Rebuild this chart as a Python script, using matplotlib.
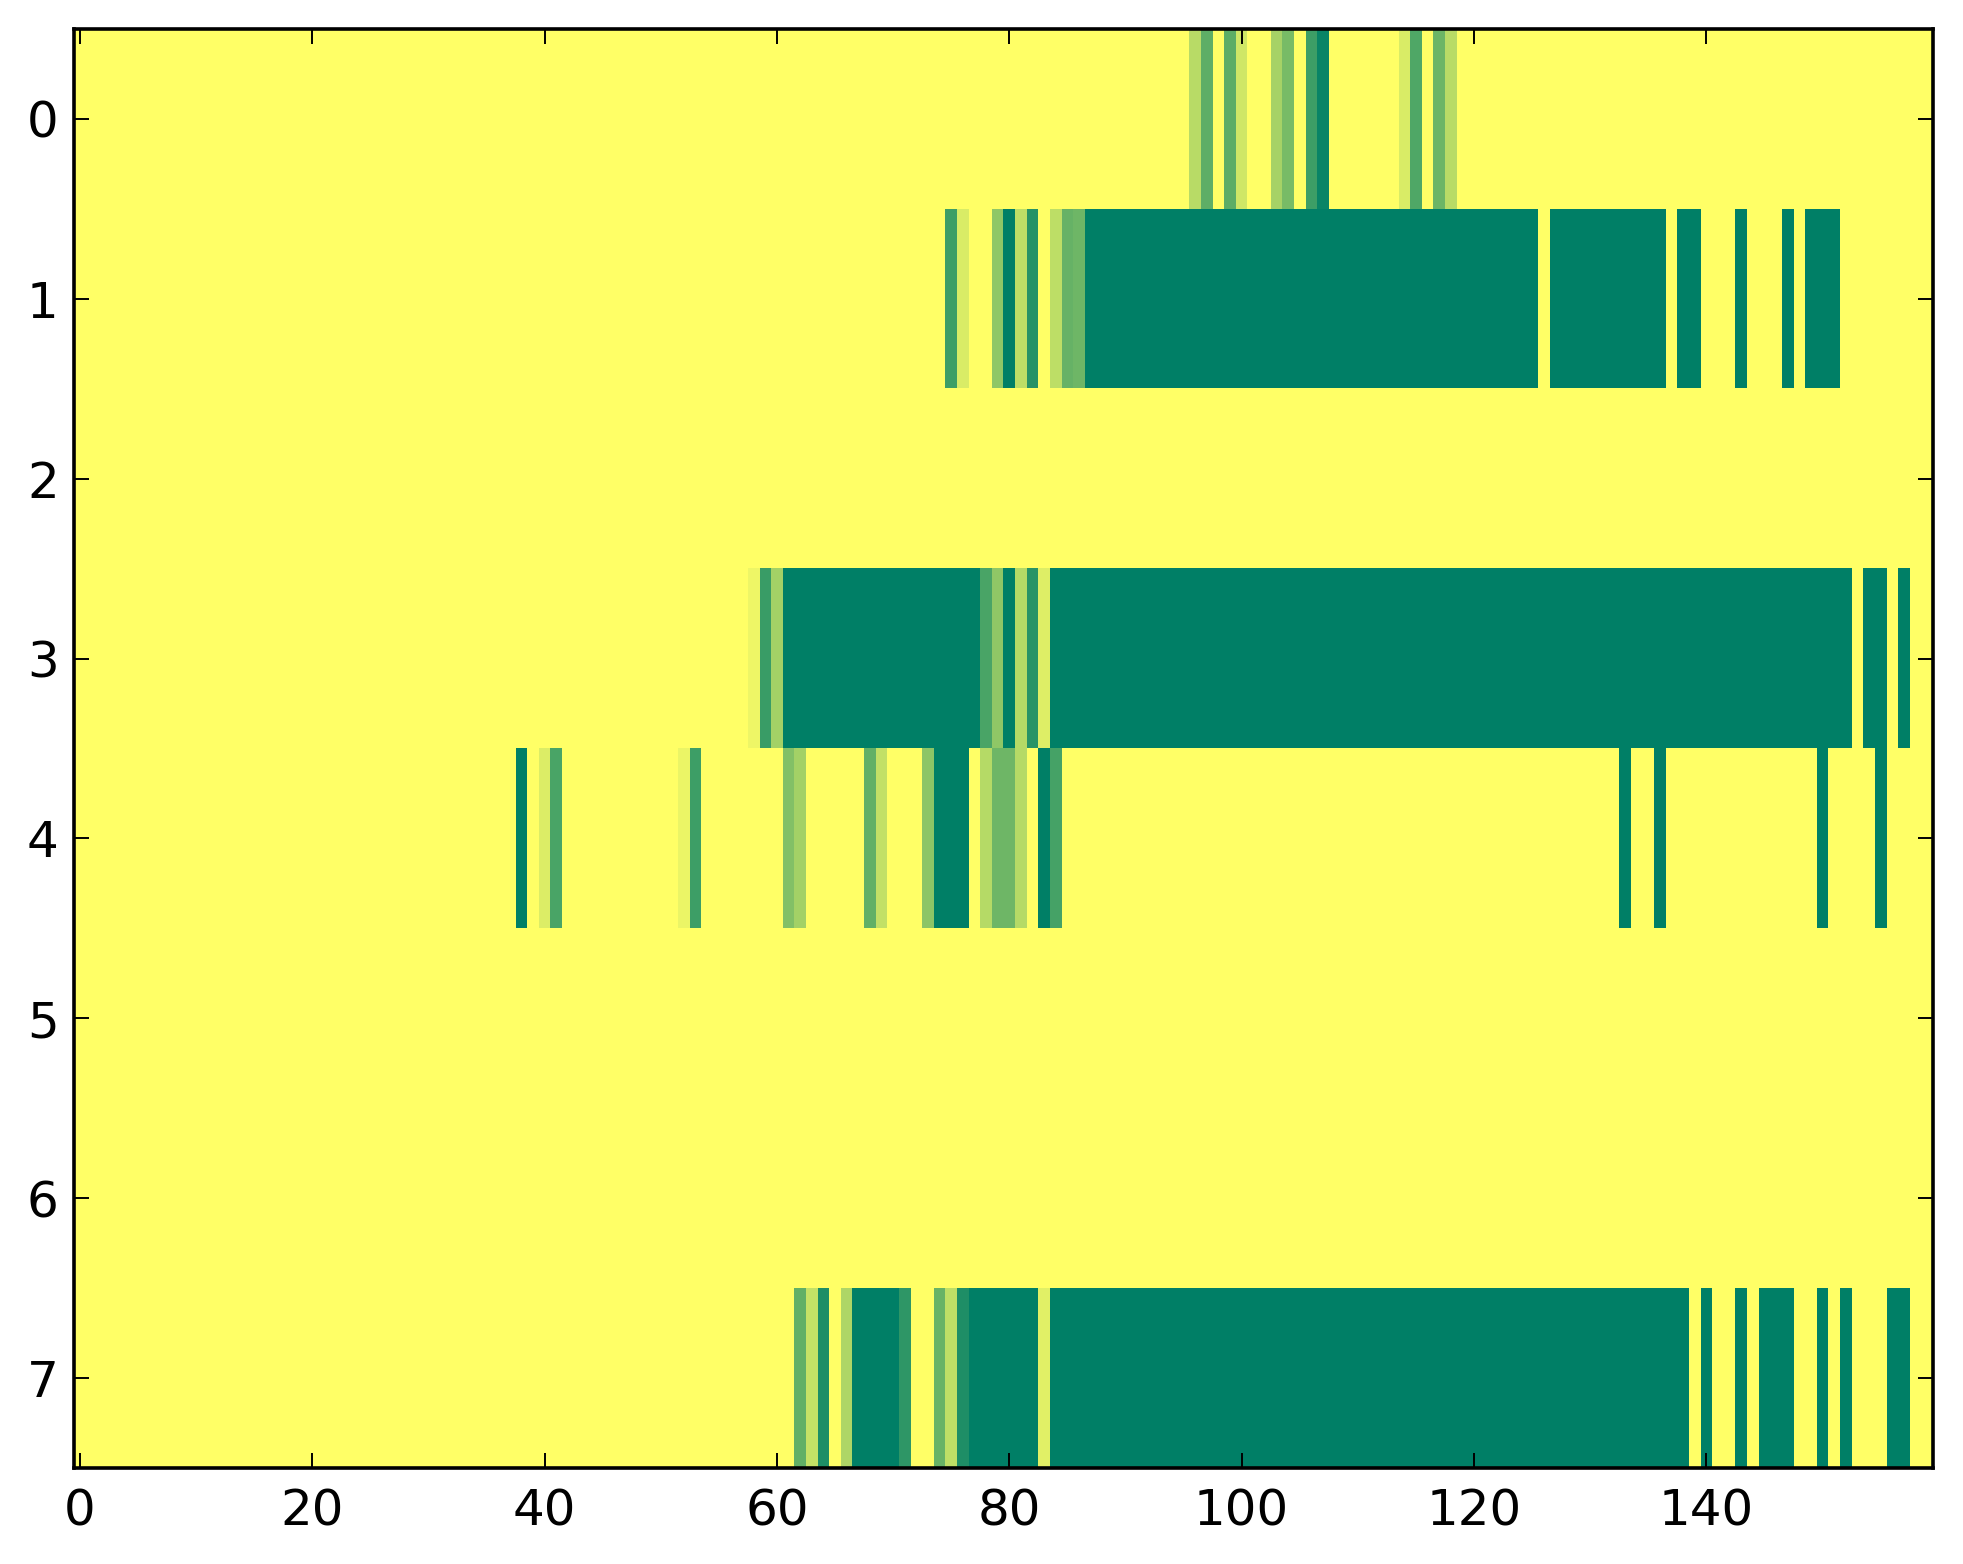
"""
Heatmap of per-row activity (summer_r colormap, 8 rows x 160 columns)
"""
import matplotlib
matplotlib.use('Agg')
import matplotlib.pyplot as plt
import numpy as np

n_cols = 160
n_rows = 8

# Non-zero cells per row: column -> value (everything else is 0)
row0 = {96: 0.28, 97: 0.63, 99: 0.64, 100: 0.19, 103: 0.35, 104: 0.53,
        106: 0.76, 107: 0.96, 114: 0.15, 115: 0.69, 117: 0.58, 118: 0.28}

row1 = {75: 0.76, 76: 0.15, 79: 0.44, 80: 1.0, 81: 0.26, 82: 0.85,
        84: 0.26, 85: 0.60, 86: 0.57}
row1_solid = [(87, 125), (127, 136), (138, 139), (143, 143), (147, 147), (149, 151)]

row3 = {58: 0.07, 59: 0.77, 60: 0.36, 78: 0.71, 79: 0.44, 80: 1.0,
        81: 0.29, 82: 0.84, 83: 0.13}
row3_solid = [(61, 77), (84, 152), (154, 155), (157, 157)]

row4 = {38: 1.0, 40: 0.14, 41: 0.71, 52: 0.08, 53: 0.76, 61: 0.49, 62: 0.36,
        68: 0.62, 69: 0.24, 73: 0.45, 78: 0.29, 79: 0.57, 80: 0.57, 81: 0.29,
        83: 1.0, 84: 0.73, 133: 1.0, 136: 1.0, 150: 1.0, 155: 1.0}
row4_solid = [(74, 76)]

row7 = {62: 0.62, 63: 0.23, 64: 0.88, 66: 0.32, 71: 0.82, 74: 0.59,
        75: 0.25, 76: 0.88, 83: 0.12}
row7_solid = [(67, 70), (77, 82), (84, 138), (140, 140), (143, 143),
              (145, 147), (150, 150), (152, 152), (156, 157)]


def build_grid():
    grid = np.zeros((n_rows, n_cols))
    for r, cells, solid in [(0, row0, []), (1, row1, row1_solid),
                            (3, row3, row3_solid), (4, row4, row4_solid),
                            (7, row7, row7_solid)]:
        for c, v in cells.items():
            grid[r, c] = v
        for a, b in solid:
            grid[r, a:b + 1] = 1.0
    return grid


W, H, DPI = 1963, 1564, 200
fig = plt.figure(figsize=(W / DPI, H / DPI), dpi=DPI)
ax = fig.add_axes([74 / W, (H - 1468) / H, (1933 - 74) / W, (1468 - 29) / H])

ax.imshow(build_grid(), cmap='summer_r', vmin=0, vmax=1,
          aspect='auto', interpolation='nearest')

ax.set_xticks(np.arange(0, 160, 20))
ax.set_yticks(np.arange(0, 8))
ax.tick_params(direction='in', top=True, right=True, length=5.4, width=0.7,
               labelsize=18)
ax.tick_params(axis='x', pad=7)
ax.tick_params(axis='y', pad=5.5)
for s in ax.spines.values():
    s.set_linewidth(1.3)

plt.savefig('out.png', dpi=DPI)
plt.close()
